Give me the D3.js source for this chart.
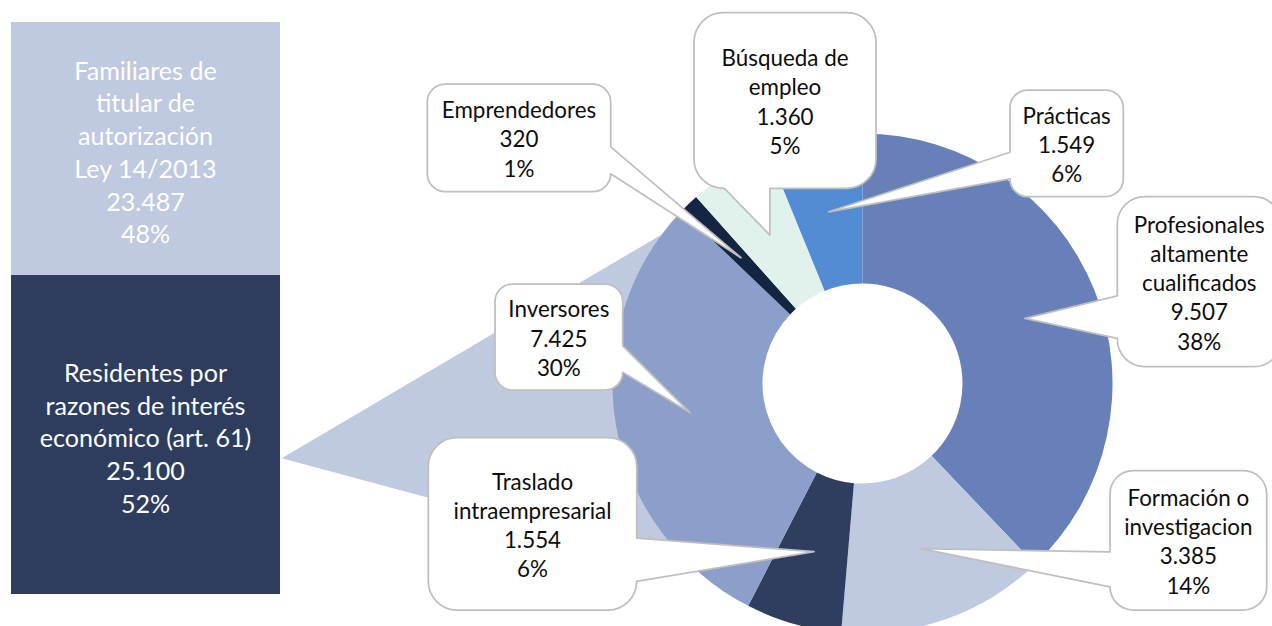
<!DOCTYPE html>
<html>
<head>
<meta charset="utf-8">
<script src="https://cdn.jsdelivr.net/npm/d3@7"></script>
<style>
  html, body { margin: 0; padding: 0; background: #ffffff; overflow: hidden; }
  svg { display: block; }
</style>
</head>
<body>
<svg id="chart" width="1272" height="626"></svg>
<script>
// ---------------- DATA ----------------
// Stacked column (top segment first)
const barCategories = [
  "Familiares de\ntitular de\nautorización\nLey 14/2013",
  "Residentes por\nrazones de interés\neconómico (art. 61)"
];
const barValues = [23487, 25100];
const barPercentLabels = ["48%", "52%"];
const barAxisMax = 45000;          // value-axis maximum of the column

// Doughnut breakdown of "Residentes por razones de interés económico"
const pieCategories = [
  "Profesionales\naltamente\ncualificados",
  "Formación o\ninvestigacion",
  "Traslado\nintraempresarial",
  "Inversores",
  "Emprendedores",
  "Búsqueda de\nempleo",
  "Prácticas"
];
const pieValues = [9507, 3385, 1554, 7425, 320, 1360, 1549];
const piePercentLabels = ["38%", "14%", "6%", "30%", "1%", "5%", "6%"];

// ---------------- STYLE / LAYOUT ----------------
const barColors = ["#BFC9E0", "#2E3D5E"];
const pieColors = ["#6780B9", "#BFC9E0", "#2F3E5F", "#8C9FCA", "#132542", "#E1F2EC", "#538CD4"];
const connectorColor = "#BFC9E0";
const calloutStroke = "#BFBFBF";
const fontFamily = "Lato, 'Open Sans', sans-serif";

const bar = { x0: 11, x1: 280, top: 22, bottom: 594 };
const pieCx = 862.5, pieCy = 383.5, outerR = 250, innerR = 100;
// callout boxes [x, y, w, h] in the same order as pieCategories
const calloutBoxes = [
  [1117.3, 196.7, 164, 170],
  [1110, 470.7, 156.7, 139.3],
  [428.3, 437.7, 208.4, 172.3],
  [495, 284, 127.7, 106],
  [427.3, 84, 183.4, 107.7],
  [694, 12.7, 182, 175.6],
  [1010, 90, 113.3, 106.7]
];
const connector = { apexY: 458.3, upperSlope: -0.589, lowerSlope: 0.269, farDx: -142.5 };

const fmt = d3.formatLocale({ decimal: ",", thousands: ".", grouping: [3], currency: ["", "€"] }).format(",d");

const svg = d3.select("#chart");

// ---------------- CONNECTOR (behind everything) ----------------
const apexX = bar.x1 + 1.7;
const farX = pieCx + connector.farDx;   // lies inside the ring, left of the hole
const connPts = [
  [apexX, connector.apexY],
  [farX, connector.apexY + connector.upperSlope * (farX - apexX)],
  [farX, connector.apexY + connector.lowerSlope * (farX - apexX)]
];
svg.append("path")
  .attr("d", d3.line()(connPts) + "Z")
  .attr("fill", connectorColor);

// ---------------- STACKED COLUMN ----------------
const yBar = d3.scaleLinear().domain([0, barAxisMax]).range([bar.bottom, bar.top]);
svg.append("clipPath").attr("id", "plotclip")
  .append("rect").attr("x", 0).attr("y", bar.top).attr("width", 1272).attr("height", bar.bottom - bar.top);

// stack from the bottom: last category at the bottom
const stackOrder = d3.range(barValues.length).reverse();
let acc = 0;
const barSegs = stackOrder.map(i => {
  const s = { i, y0: acc, y1: acc + barValues[i] };
  acc += barValues[i];
  return s;
});
const barG = svg.append("g").attr("clip-path", "url(#plotclip)");
barG.selectAll("rect").data(barSegs).join("rect")
  .attr("x", bar.x0)
  .attr("width", bar.x1 - bar.x0)
  .attr("y", d => yBar(d.y1))
  .attr("height", d => yBar(d.y0) - yBar(d.y1))
  .attr("fill", d => barColors[d.i]);

const barFont = 25.1, barLH = 32.75;
barSegs.forEach(d => {
  const yTop = Math.max(yBar(d.y1), bar.top), yBot = Math.min(yBar(d.y0), bar.bottom);
  const lines = barCategories[d.i].split("\n").concat([fmt(barValues[d.i]), barPercentLabels[d.i]]);
  const mid = (yTop + yBot) / 2 + 4;
  const t = svg.append("text")
    .attr("text-anchor", "middle")
    .attr("font-family", fontFamily)
    .attr("font-size", barFont)
    .attr("fill", "#ffffff");
  lines.forEach((ln, k) => {
    t.append("tspan")
      .attr("x", (bar.x0 + bar.x1) / 2)
      .attr("y", mid + (k - (lines.length - 1) / 2) * barLH + 0.358 * barFont)
      .text(ln);
  });
});

// ---------------- DOUGHNUT ----------------
const pie = d3.pie().sort(null).value(d => d).startAngle(0).endAngle(2 * Math.PI);
const arcs = pie(pieValues);
const arc = d3.arc().innerRadius(innerR).outerRadius(outerR);
const pieG = svg.append("g").attr("transform", `translate(${pieCx},${pieCy})`);
pieG.selectAll("path").data(arcs).join("path")
  .attr("d", arc)
  .attr("fill", (d, i) => pieColors[i]);

// ---------------- CALLOUTS ----------------
function calloutPath(x, y, w, h, tx, ty) {
  const r = Math.min(w, h) / 6;
  const cx = x + w / 2, cy = y + h / 2;
  const dx = tx - cx, dy = ty - cy;
  const dq = dx * h / w;
  let side;
  if (Math.abs(dy) > Math.abs(dq)) side = dy > 0 ? "bottom" : "top";
  else side = dx > 0 ? "right" : "left";
  const ha = dx > 0 ? 7 / 12 : 2 / 12, hb = dx > 0 ? 10 / 12 : 5 / 12;
  const va = dy > 0 ? 7 / 12 : 2 / 12, vb = dy > 0 ? 10 / 12 : 5 / 12;
  const p = d3.path();
  p.moveTo(x + r, y);
  if (side === "top") { p.lineTo(x + w * ha, y); p.lineTo(tx, ty); p.lineTo(x + w * hb, y); }
  p.lineTo(x + w - r, y);
  p.arcTo(x + w, y, x + w, y + r, r);
  if (side === "right") { p.lineTo(x + w, y + h * va); p.lineTo(tx, ty); p.lineTo(x + w, y + h * vb); }
  p.lineTo(x + w, y + h - r);
  p.arcTo(x + w, y + h, x + w - r, y + h, r);
  if (side === "bottom") { p.lineTo(x + w * hb, y + h); p.lineTo(tx, ty); p.lineTo(x + w * ha, y + h); }
  p.lineTo(x + r, y + h);
  p.arcTo(x, y + h, x, y + h - r, r);
  if (side === "left") { p.lineTo(x, y + h * vb); p.lineTo(tx, ty); p.lineTo(x, y + h * va); }
  p.lineTo(x, y + r);
  p.arcTo(x, y, x + r, y, r);
  p.closePath();
  return p.toString();
}

const calloutFont = 22.4, calloutLH = 29.2;
const callG = svg.append("g");
arcs.forEach((a, i) => {
  const [bx, by, bw, bh] = calloutBoxes[i];
  const c = arc.centroid(a);
  const tx = pieCx + c[0], ty = pieCy + c[1];
  const g = callG.append("g");
  g.append("path")
    .attr("d", calloutPath(bx, by, bw, bh, tx, ty))
    .attr("fill", "#ffffff")
    .attr("stroke", calloutStroke)
    .attr("stroke-width", 1.75)
    .attr("stroke-linejoin", "round");
  const lines = pieCategories[i].split("\n").concat([fmt(pieValues[i]), piePercentLabels[i]]);
  const mid = by + bh / 2 + 1.5;
  const t = g.append("text")
    .attr("text-anchor", "middle")
    .attr("font-family", fontFamily)
    .attr("font-size", calloutFont)
    .attr("fill", "#0d0d0d");
  lines.forEach((ln, k) => {
    t.append("tspan")
      .attr("x", bx + bw / 2)
      .attr("y", mid + (k - (lines.length - 1) / 2) * calloutLH + 0.358 * calloutFont)
      .text(ln);
  });
});
</script>
</body>
</html>
